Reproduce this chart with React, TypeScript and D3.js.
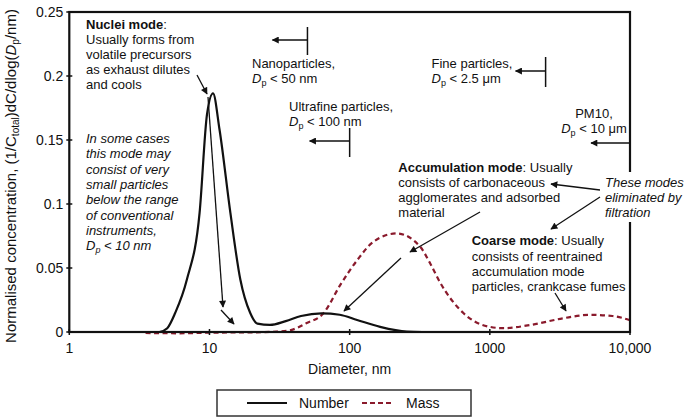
import React from 'react';
import * as d3 from 'd3';

// ---- data ----
const numberDiam = [4.4, 5, 5.7, 6.9, 8.5, 9.6, 10.6, 11.8, 14.1, 16.6, 19.5, 22, 27, 35, 45, 63, 85, 113, 165, 256, 330];
const numberConc = [0, 0.003, 0.015, 0.041, 0.093, 0.17, 0.1865, 0.158, 0.093, 0.041, 0.015, 0.0065, 0.0055, 0.0085, 0.0125, 0.0146, 0.0135, 0.0094, 0.004, 0.0003, 0];

const massDiam = [3.5, 6, 10, 20, 30, 38, 49, 65, 86, 113, 148, 217, 318, 375, 440, 650, 1000, 1250, 1950, 3330, 5190, 7500, 10000];
const massConc = [-0.0008, -0.001, -0.0005, -0.0003, 0.0003, 0.0015, 0.0068, 0.0146, 0.037, 0.056, 0.0706, 0.077, 0.0667, 0.0537, 0.039, 0.0146, 0.004, 0.003, 0.0055, 0.0107, 0.0134, 0.0125, 0.0092];

const yTicks = [0, 0.05, 0.1, 0.15, 0.2, 0.25];
const yTickLabels = ['0', '0.05', '0.1', '0.15', '0.2', '0.25'];
const xTicks = [1, 10, 100, 1000, 10000];
const xTickLabels = ['1', '10', '100', '1000', '10,000'];

const seriesNames = ['Number', 'Mass'];
// size-class thresholds in nm
const nanoLimit = 50;
const ultrafineLimit = 100;
const fineLimit = 2500;
const pm10Limit = 10000;

const FONT = 'Liberation Sans, Arial, Helvetica, sans-serif';
const MASS_COLOR = '#8a1a2c';

export default function App() {
  const W = 684;
  const H = 420;
  const x = d3.scaleLog().domain([1, 10000]).range([69.3, 630]);
  const y = d3.scaleLinear().domain([0, 0.25]).range([332, 12]);

  const line = d3
    .line<[number, number]>()
    .x((d) => x(d[0]))
    .y((d) => y(d[1]))
    .curve(d3.curveMonotoneX);

  const numPts = numberDiam.map((d, i) => [d, numberConc[i]] as [number, number]);
  const massPts = massDiam.map((d, i) => [d, massConc[i]] as [number, number]);

  const x0 = x(1);
  const x1 = x(10000);
  const y0 = y(0);
  const y1 = y(0.25);

  const fs = 13;
  const t = (cy: number) => cy + fs * 0.35;

  const Dp = () => (
    <>
      <tspan fontStyle="italic">D</tspan>
      <tspan fontSize={9} dy={3}>p</tspan>
      <tspan dy={-3}> </tspan>
    </>
  );

  const arrows: [number, number, number, number][] = [
    [197, 75, 207, 94],
    [208, 97, 223, 307],
    [221, 310, 234, 324],
    [480, 212, 410, 252],
    [401, 258, 344, 311],
    [600, 190, 551, 184],
    [600, 197, 551, 229],
    [555, 293, 566, 311],
  ];

  return (
    <svg
      width={W}
      height={H}
      style={{ position: 'absolute', left: 0, top: 0, background: '#fff' }}
      fontFamily={FONT}
    >
      <defs>
        <marker
          id="ah"
          viewBox="0 0 10 10"
          refX="9"
          refY="5"
          markerWidth="8"
          markerHeight="7"
          markerUnits="userSpaceOnUse"
          orient="auto"
        >
          <path d="M0,0 L10,5 L0,10 z" fill="#111" />
        </marker>
      </defs>
      <rect x={0} y={0} width={W} height={H} fill="#fff" />

      {/* curves */}
      <path d={line(massPts) || ''} fill="none" stroke={MASS_COLOR} strokeWidth={2.2} strokeDasharray="5,3.5" />
      <path d={line(numPts) || ''} fill="none" stroke="#111" strokeWidth={2.2} />

      {/* frame */}
      <rect x={x0} y={y1} width={x1 - x0} height={y0 - y1} fill="none" stroke="#111" strokeWidth={2.2} />

      {/* y ticks */}
      {yTicks.map((v, i) => (
        <g key={'yt' + i}>
          <line x1={x0 - 3} x2={x0 + 3} y1={y(v)} y2={y(v)} stroke="#111" strokeWidth={1.5} />
          <text x={x0 - 6} y={y(v) + 5} textAnchor="end" fontSize={14} fill="#111">
            {yTickLabels[i]}
          </text>
        </g>
      ))}
      {/* x ticks */}
      {xTicks.map((v, i) => (
        <g key={'xt' + i}>
          <line x1={x(v)} x2={x(v)} y1={y0 - 3} y2={y0 + 3} stroke="#111" strokeWidth={1.5} />
          <text x={x(v)} y={353} textAnchor="middle" fontSize={14} fill="#111">
            {xTickLabels[i]}
          </text>
        </g>
      ))}

      {/* axis titles */}
      <text x={(x0 + x1) / 2} y={374} textAnchor="middle" fontSize={14} fill="#111">
        Diameter, nm
      </text>
      <text transform="translate(16,176) rotate(-90)" textAnchor="middle" fontSize={15} fill="#111">
        Normalised concentration, (1/C
        <tspan fontSize={10} dy={3}>total</tspan>
        <tspan dy={-3}>)dC/dlog(</tspan>
        <tspan fontStyle="italic">D</tspan>
        <tspan fontSize={10} dy={3}>p</tspan>
        <tspan dy={-3}>/nm)</tspan>
      </text>

      {/* mask behind "These modes" */}
      <rect x={603} y={172} width={81} height={50} fill="#fff" />

      {/* Nuclei mode */}
      <g fontSize={fs} fill="#111">
        <text x={86} y={t(24.5)}>
          <tspan fontWeight="bold">Nuclei mode</tspan>:
        </text>
        <text x={86} y={t(39.5)}>Usually forms from</text>
        <text x={86} y={t(54.5)}>volatile precursors</text>
        <text x={86} y={t(69.5)}>as exhaust dilutes</text>
        <text x={86} y={t(84.5)}>and cools</text>
      </g>
      <g fontSize={fs} fill="#111" fontStyle="italic">
        <text x={86} y={t(138.5)}>In some cases</text>
        <text x={86} y={t(153.8)}>this mode may</text>
        <text x={86} y={t(169.1)}>consist of very</text>
        <text x={86} y={t(184.4)}>small particles</text>
        <text x={86} y={t(199.7)}>below the range</text>
        <text x={86} y={t(215)}>of conventional</text>
        <text x={86} y={t(230.3)}>instruments,</text>
        <text x={86} y={t(245.6)}>
          {Dp()}&lt; 10 nm
        </text>
      </g>

      {/* size classes */}
      <g fontSize={fs} fill="#111">
        <text x={252} y={t(63.5)}>Nanoparticles,</text>
        <text x={252} y={t(78.5)}>
          {Dp()}&lt; 50 nm
        </text>
        <text x={289} y={t(106.5)}>Ultrafine particles,</text>
        <text x={289} y={t(121.5)}>
          {Dp()}&lt; 100 nm
        </text>
        <text x={431.5} y={t(63.5)}>Fine particles,</text>
        <text x={431.5} y={t(78.5)}>
          {Dp()}&lt; 2.5 μm
        </text>
        <text x={594} y={t(113)} textAnchor="middle">PM10,</text>
        <text x={594} y={t(128.5)} textAnchor="middle">
          {Dp()}&lt; 10 μm
        </text>
      </g>
      <g stroke="#111" strokeWidth={1.5}>
        <line x1={x(nanoLimit)} x2={x(nanoLimit)} y1={27} y2={55} />
        <line x1={x(nanoLimit)} x2={x(nanoLimit) - 35} y1={40} y2={40} markerEnd="url(#ah)" />
        <line x1={x(ultrafineLimit)} x2={x(ultrafineLimit)} y1={128} y2={157} />
        <line x1={x(ultrafineLimit)} x2={x(ultrafineLimit) - 40} y1={141} y2={141} markerEnd="url(#ah)" />
        <line x1={x(fineLimit)} x2={x(fineLimit)} y1={57} y2={87} />
        <line x1={x(fineLimit)} x2={x(fineLimit) - 30} y1={71} y2={71} markerEnd="url(#ah)" />
        <line x1={x(pm10Limit)} x2={x(pm10Limit) - 39} y1={143} y2={143} markerEnd="url(#ah)" />
      </g>

      {/* Accumulation mode */}
      <g fontSize={fs} fill="#111">
        <text x={398.3} y={t(167)}>
          <tspan fontWeight="bold">Accumulation mode</tspan>: Usually
        </text>
        <text x={398.3} y={t(182.3)}>consists of carbonaceous</text>
        <text x={398.3} y={t(197.6)}>agglomerates and adsorbed</text>
        <text x={398.3} y={t(212.9)}>material</text>
      </g>
      <g fontSize={fs} fill="#111" fontStyle="italic">
        <text x={605} y={t(182.3)}>These modes</text>
        <text x={605} y={t(197.6)}>eliminated by</text>
        <text x={605} y={t(212.9)}>filtration</text>
      </g>
      <g fontSize={fs} fill="#111">
        <text x={471.7} y={t(240.7)}>
          <tspan fontWeight="bold">Coarse mode</tspan>: Usually
        </text>
        <text x={471.7} y={t(256)}>consists of reentrained</text>
        <text x={471.7} y={t(271.3)}>accumulation mode</text>
        <text x={471.7} y={t(286.6)}>particles, crankcase fumes</text>
      </g>

      {/* pointer arrows */}
      <g stroke="#111" strokeWidth={1.3}>
        {arrows.map((a, i) => (
          <line key={'ar' + i} x1={a[0]} y1={a[1]} x2={a[2]} y2={a[3]} markerEnd="url(#ah)" />
        ))}
      </g>

      {/* legend */}
      <g>
        <rect x={217} y={390} width={254} height={26} fill="#fff" stroke="#333" strokeWidth={1.5} />
        <line x1={247} x2={287} y1={403} y2={403} stroke="#111" strokeWidth={2.2} />
        <text x={299} y={408} fontSize={14} fill="#111">{seriesNames[0]}</text>
        <line x1={362} x2={392} y1={403} y2={403} stroke={MASS_COLOR} strokeWidth={2.2} strokeDasharray="5,3" />
        <text x={406} y={408} fontSize={14} fill="#111">{seriesNames[1]}</text>
      </g>
    </svg>
  );
}
